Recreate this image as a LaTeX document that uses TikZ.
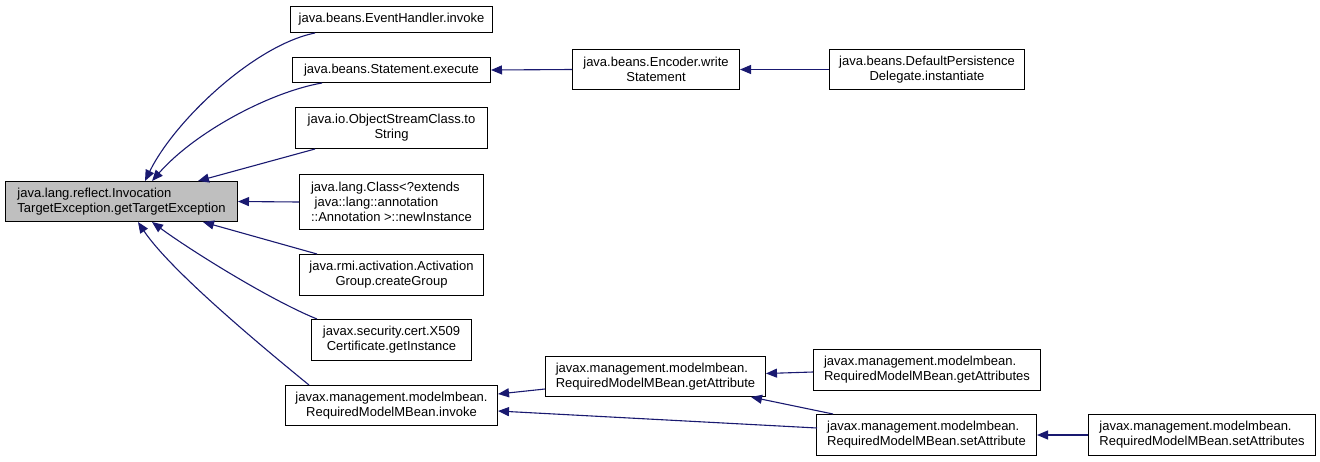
\documentclass[tikz,border=0pt]{standalone}
\usepackage{fontspec}
\setmainfont{Liberation Sans}
\usetikzlibrary{arrows.meta,calc}
\definecolor{edgeblue}{HTML}{191970}
\definecolor{rootgray}{HTML}{BFBFBF}
\tikzset{
  fn/.style={draw=black, line width=1pt, fill=white, inner sep=0pt, anchor=north west,
             font=\fontsize{13}{15}\selectfont},
  rootfn/.style={fn, fill=rootgray},
  link/.style={draw=edgeblue, line width=1.1pt, -{Triangle[length=11pt,width=9pt]}}
}
\begin{document}
\begin{tikzpicture}[x=1pt,y=-1pt]
\useasboundingbox (0,0) rectangle (1320,461);

% root function
\node[rootfn, minimum width=232pt, minimum height=40pt, align=left] (main) at (5,181)
  {java.lang.reflect.Invocation\\TargetException.getTargetException};

% direct callers
\node[fn, minimum width=202pt, minimum height=26pt, align=center] (ev) at (290,6)
  {java.beans.EventHandler.invoke};
\node[fn, minimum width=198pt, minimum height=25pt, align=center] (st) at (292,57)
  {java.beans.Statement.execute};
\node[fn, minimum width=192pt, minimum height=41pt, align=center] (os) at (295,107)
  {java.io.ObjectStreamClass.to\\String};
\node[fn, minimum width=184pt, minimum height=55pt, align=left] (cl) at (299,174)
  {java.lang.Class<?extends\\\hspace*{3.6pt}java::lang::annotation\\::Annotation >::newInstance};
\node[fn, minimum width=184pt, minimum height=41pt, align=center] (ag) at (299,254)
  {java.rmi.activation.Activation\\Group.createGroup};
\node[fn, minimum width=160pt, minimum height=41pt, align=center] (xc) at (311,319)
  {javax.security.cert.X509\\Certificate.getInstance};
\node[fn, minimum width=212pt, minimum height=40pt, align=center] (inv) at (285,385)
  {javax.management.modelmbean.\\RequiredModelMBean.invoke};

% further callers
\node[fn, minimum width=167pt, minimum height=40pt, align=center] (enc) at (572,49)
  {java.beans.Encoder.write\\Statement};
\node[fn, minimum width=195pt, minimum height=40pt, align=center] (dpd) at (829,49)
  {java.beans.DefaultPersistence\\Delegate.instantiate};
\node[fn, minimum width=220pt, minimum height=40pt, align=left] (ga) at (545,356)
  {javax.management.modelmbean.\\RequiredModelMBean.getAttribute};
\node[fn, minimum width=227pt, minimum height=41pt, align=left] (gas) at (813,349)
  {javax.management.modelmbean.\\RequiredModelMBean.getAttributes};
\node[fn, minimum width=220pt, minimum height=41pt, align=left] (sa) at (816,414)
  {javax.management.modelmbean.\\RequiredModelMBean.setAttribute};
\node[fn, minimum width=227pt, minimum height=41pt, align=left] (sas) at (1088,414)
  {javax.management.modelmbean.\\RequiredModelMBean.setAttributes};

% call edges (arrow points at the callee)
\draw[link] ($(ev.south west)+(25,0)$) .. controls (255,45) and (175,120) .. ($(main.north west)+(140,0)$);
\draw[link] ($(st.south west)+(30,0)$) .. controls (270,92) and (195,132) .. ($(main.north west)+(147,0)$);
\draw[link] ($(os.south west)+(20,0)$) -- ($(main.north west)+(193,0)$);
\draw[link] (cl.west) -- (main.east);
\draw[link] ($(ag.north west)+(18,0)$) -- ($(main.south west)+(198,0)$);
\draw[link] ($(xc.north west)+(6,0)$) .. controls (270,300) and (190,250) .. ($(main.south west)+(147,0)$);
\draw[link] ($(inv.north west)+(24,0)$) .. controls (260,345) and (170,270) .. ($(main.south west)+(133,0)$);

\draw[link] (enc.west) -- (st.east);
\draw[link] (dpd.west) -- (enc.east);

\draw[link] ($(ga.south west)+(0,-8)$) -- ($(inv.north east)+(0,9)$);
\draw[link] ($(sa.north west)+(1,14)$) -- ($(inv.north east)+(0,26)$);
\draw[link] ($(gas.west)+(0,2)$) -- ($(ga.east)+(0,-3)$);
\draw[link] ($(sa.north west)+(17,0)$) -- ($(ga.south east)+(-15,0)$);
\draw[link] (sas.west) -- (sa.east);
\end{tikzpicture}
\end{document}
